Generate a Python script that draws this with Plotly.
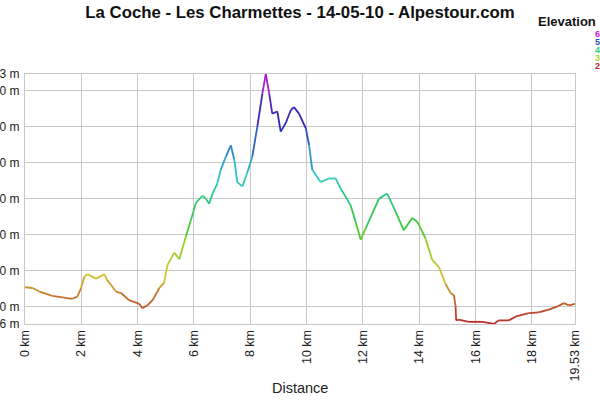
import plotly.graph_objects as go
from plotly.colors import sample_colorscale

# profile
distance_km = [0.00, 0.27, 0.51, 0.97, 1.33, 1.68, 1.86, 1.99, 2.11, 2.22,
               2.52, 2.82, 2.92, 3.23, 3.41, 3.70, 4.06, 4.17, 4.35, 4.53,
               4.77, 4.94, 5.06, 5.30, 5.48, 5.71, 5.89, 6.07, 6.30, 6.42,
               6.54, 6.66, 6.83, 6.95, 7.13, 7.31, 7.43, 7.54, 7.72, 7.90,
               8.07, 8.25, 8.43, 8.55, 8.67, 8.78, 8.96, 9.08, 9.26, 9.44,
               9.55, 9.73, 9.97, 10.09, 10.20, 10.50, 10.79, 11.03, 11.21, 11.56,
               11.74, 11.92, 12.10, 12.57, 12.86, 13.16, 13.45, 13.75, 13.93, 14.22,
               14.46, 14.70, 14.93, 15.11, 15.23, 15.29, 15.31, 15.40, 15.76, 16.23,
               16.41, 16.65, 16.82, 17.18, 17.47, 17.89, 18.24, 18.60, 18.89, 19.13,
               19.31, 19.53]
elevation_m = [327, 326, 321, 315, 313, 311, 314, 326, 342, 345,
               339, 345, 337, 321, 319, 309, 304, 298, 302, 309,
               326, 333, 358, 375, 366, 397, 420, 444, 454, 450,
               443, 457, 471, 490, 508, 524, 504, 473, 467, 487,
               508, 550, 596, 623, 596, 568, 571, 543, 555, 573,
               577, 568, 548, 524, 490, 473, 478, 478, 464, 441,
               418, 393, 409, 450, 457, 432, 406, 423, 418, 395,
               365, 355, 332, 319, 316, 300, 281, 282, 279, 279,
               278, 276, 281, 281, 287, 291, 292, 296, 300, 305,
               302, 304]

x_ticks = [0, 2, 4, 6, 8, 10, 12, 14, 16, 18, 19.53]
x_tick_labels = ["0 km", "2 km", "4 km", "6 km", "8 km", "10 km", "12 km",
                 "14 km", "16 km", "18 km", "19.53 km"]
y_ticks = [276, 300, 350, 400, 450, 500, 550, 600, 623]
y_tick_labels = ["276 m", "300 m", "350 m", "400 m", "450 m", "500 m",
                 "550 m", "600 m", "623 m"]
legend_levels = [623, 536, 449, 363, 276]

elev_min, elev_max = 276, 623

# hue wheel red -> yellow -> green -> cyan -> blue -> magenta
elev_scale = [
    [0.0, "#b82828"], [0.1, "#c46a2c"], [0.2, "#d0c830"], [0.3, "#98d030"],
    [0.4, "#3cc83c"], [0.5, "#30c880"], [0.6, "#30c8c8"], [0.7, "#3080c8"],
    [0.8, "#2828b0"], [0.9, "#6020c0"], [1.0, "#d020d0"],
]


def to_t(e):
    return (e - elev_min) / (elev_max - elev_min)


fig = go.Figure()

# one short trace per segment so the line follows the elevation colours
for i in range(len(distance_km) - 1):
    mid = (elevation_m[i] + elevation_m[i + 1]) / 2
    col = sample_colorscale(elev_scale, [to_t(mid)])[0]
    fig.add_trace(go.Scatter(
        x=distance_km[i:i + 2],
        y=elevation_m[i:i + 2],
        mode="lines",
        line=dict(color=col, width=1.8),
        showlegend=False,
        hoverinfo="skip",
    ))

annotations = [
    dict(text="<b>Elevation</b>", x=0.929, y=1.212, xref="paper", yref="paper",
         xanchor="left", yanchor="middle", showarrow=False,
         font=dict(size=13, color="#111")),
    dict(text="Distance", x=0.5, y=-0.256, xref="paper", yref="paper",
         xanchor="center", yanchor="middle", showarrow=False,
         font=dict(size=14.5, color="#222")),
]
legend_y = [1.16, 1.128, 1.096, 1.064, 1.032]
for lv, yy in zip(legend_levels, legend_y):
    annotations.append(dict(
        text="<b>%d m</b>" % lv, x=1.0327, y=yy, xref="paper", yref="paper",
        xanchor="left", yanchor="middle", showarrow=False,
        font=dict(size=9, color=sample_colorscale(elev_scale, [to_t(lv)])[0]),
    ))

fig.update_layout(
    width=600, height=400,
    margin=dict(l=25, r=25, t=74, b=76),
    paper_bgcolor="white", plot_bgcolor="white",
    font=dict(family="Liberation Sans, Arial, sans-serif", color="#222"),
    title=dict(text="<b>La Coche - Les Charmettes - 14-05-10 - Alpestour.com</b>",
               x=0.5, xanchor="center", y=0.97, yanchor="middle",
               font=dict(size=16.8, color="#111")),
    xaxis=dict(range=[0, 19.53], tickvals=x_ticks, ticktext=x_tick_labels,
               tickangle=-90, tickfont=dict(size=12.5), showgrid=True,
               gridcolor="#c8c8c8", zeroline=False, showline=True,
               linecolor="#c8c8c8", mirror=True, ticks="", automargin=False),
    yaxis=dict(range=[elev_min, elev_max], tickvals=y_ticks, ticktext=y_tick_labels,
               tickfont=dict(size=12), showgrid=True, gridcolor="#c8c8c8",
               zeroline=False, showline=True, linecolor="#c8c8c8", mirror=True,
               ticks="", automargin=False, ticklabelstandoff=2),
    annotations=annotations,
)

# drop the browser's default body margin so the 600x400 figure fills the window
fig.write_html("out.html", config={"displayModeBar": False},
               post_script="document.body.style.margin='0';")
